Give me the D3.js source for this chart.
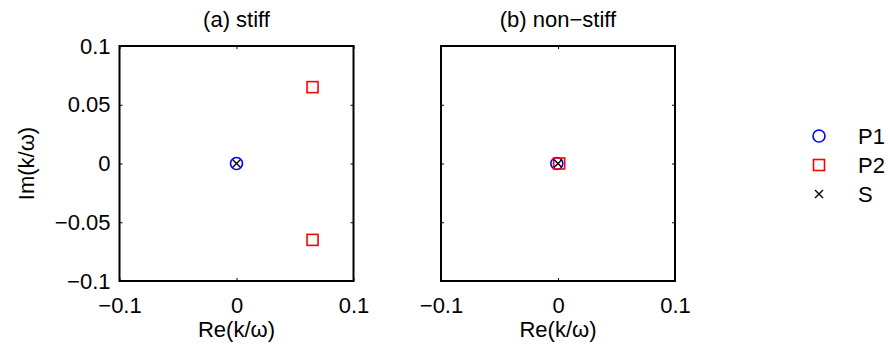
<!DOCTYPE html>
<html><head><meta charset="utf-8">
<script src="https://cdn.jsdelivr.net/npm/d3@7"></script>
<style>body{margin:0;background:#fff}svg{display:block}text{font-family:"Liberation Sans",Arial,sans-serif;fill:#000}</style>
</head><body>
<script>
const panelTitles = ["(a) stiff", "(b) non\u2212stiff"];
const tickValues = [-0.1, -0.05, 0, 0.05, 0.1];
const xTickValues = [-0.1, 0, 0.1];
const tickLabels = {"-0.1":"\u22120.1","-0.05":"\u22120.05","0":"0","0.05":"0.05","0.1":"0.1"};
// points per panel: [re, im]
const p1Points = [[[0, 0]], [[-0.001, 0]]];
const p2Points = [[[0.065, 0.065], [0.065, -0.065]], [[0.001, 0]]];
const sPoints = [[[0, 0]], [[0, 0]]];
const legendNames = ["P1", "P2", "S"];

const W = 888, H = 347, FS = "22px";
const svg = d3.select("body").append("svg").attr("width", W).attr("height", H);
const panelsX = [119.5, 441];
const pw = 234, ph = 235, plotTop = 46;

function drawMarker(g, type, x, y) {
  if (type === "P1") g.append("circle").attr("cx", x).attr("cy", y).attr("r", 6).attr("fill", "none").attr("stroke", "#0000ff").attr("stroke-width", 1.6);
  else if (type === "P2") g.append("rect").attr("x", x - 5.5).attr("y", y - 5.5).attr("width", 11).attr("height", 11).attr("fill", "none").attr("stroke", "#ff0000").attr("stroke-width", 1.6);
  else {
    const s = 4;
    g.append("path").attr("d", `M${x-s},${y-s}L${x+s},${y+s}M${x-s},${y+s}L${x+s},${y-s}`).attr("stroke", "#000").attr("stroke-width", 1.4);
  }
}

panelTitles.forEach((t, i) => {
  const x0 = panelsX[i];
  const x = d3.scaleLinear().domain([-0.1, 0.1]).range([x0, x0 + pw]);
  const y = d3.scaleLinear().domain([-0.1, 0.1]).range([plotTop + ph, plotTop]);
  const g = svg.append("g");
  const fmt = v => tickLabels[String(v)];
  const ax = g.append("g").attr("transform", `translate(0,${plotTop + ph})`).call(d3.axisBottom(x).tickValues(xTickValues).tickSize(-3).tickPadding(16).tickFormat(fmt));
  const axT = g.append("g").attr("transform", `translate(0,${plotTop})`).call(d3.axisTop(x).tickValues(xTickValues).tickSize(-3).tickFormat(""));
  const ay = g.append("g").attr("transform", `translate(${x0},0)`).call(d3.axisLeft(y).tickValues(tickValues).tickSize(-3).tickPadding(9).tickFormat(i === 0 ? fmt : ""));
  const ayR = g.append("g").attr("transform", `translate(${x0 + pw},0)`).call(d3.axisRight(y).tickValues(tickValues).tickSize(-3).tickFormat(""));
  [ax, axT, ay, ayR].forEach(a => {
    a.select(".domain").remove();
    a.selectAll("line").attr("stroke", "#000").attr("stroke-width", 1);
    a.selectAll("text").style("font-size", FS).attr("fill", "#000");
  });
  ax.selectAll("text").attr("dy", "0.71em");
  g.append("rect").attr("x", x0).attr("y", plotTop).attr("width", pw).attr("height", ph).attr("fill", "none").attr("stroke", "#000").attr("stroke-width", 2);
  g.append("text").attr("x", x0 + pw / 2).attr("y", 27).attr("text-anchor", "middle").style("font-size", FS).text(t);
  g.append("text").attr("x", x0 + pw / 2).attr("y", 337).attr("text-anchor", "middle").style("font-size", FS).text("Re(k/\u03c9)");
  if (i === 0) g.append("text").attr("transform", `translate(34,${plotTop + ph / 2}) rotate(-90)`).attr("text-anchor", "middle").style("font-size", FS).text("Im(k/\u03c9)");
  p1Points[i].forEach(p => drawMarker(g, "P1", x(p[0]), y(p[1])));
  p2Points[i].forEach(p => drawMarker(g, "P2", x(p[0]), y(p[1])));
  sPoints[i].forEach(p => drawMarker(g, "S", x(p[0]), y(p[1])));
});

const lg = svg.append("g");
legendNames.forEach((n, k) => {
  const yy = 136 + k * 29;
  drawMarker(lg, n, 819, yy);
  lg.append("text").attr("x", 858).attr("y", yy + 8).style("font-size", FS).text(n);
});
</script>
</body></html>
